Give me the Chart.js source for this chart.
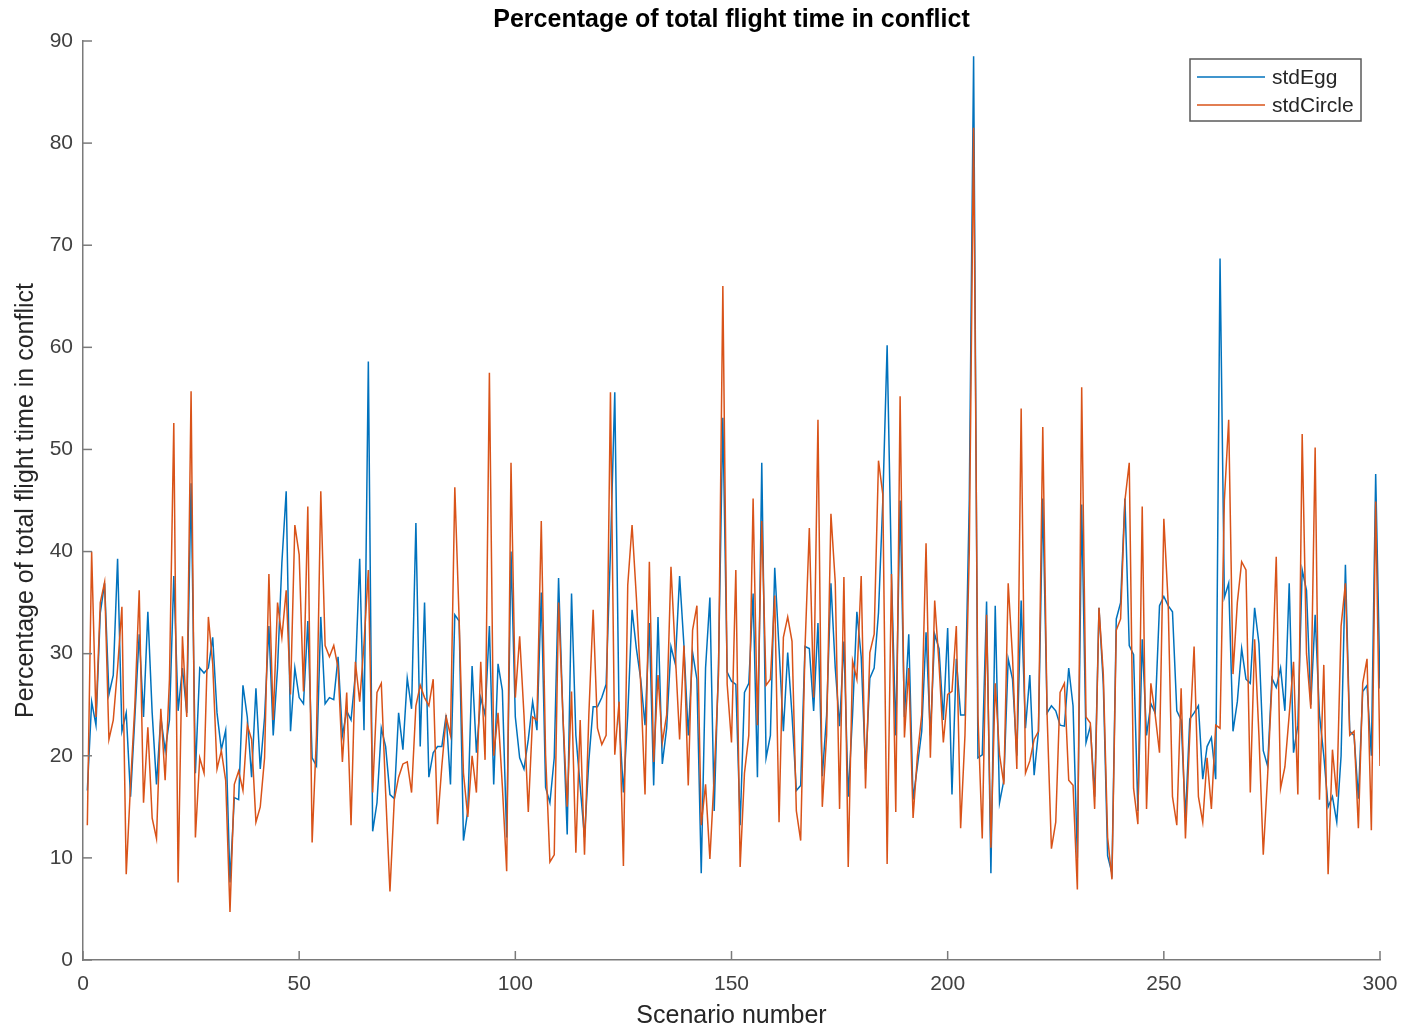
<!DOCTYPE html>
<html><head><meta charset="utf-8">
<script src="https://cdn.jsdelivr.net/npm/chart.js@4/dist/chart.umd.min.js"></script>
<style>html,body{margin:0;padding:0;background:#fff;}#wrap{width:1406px;height:1031px;position:relative;}</style>
</head><body><div id="wrap"><canvas id="c" width="1406" height="1031"></canvas></div>
<script>
const chartTitle = 'Percentage of total flight time in conflict';
const xTitle = 'Scenario number';
const yTitle = 'Percentage of total flight time in conflict';
const seriesNames = ['stdEgg', 'stdCircle'];
const xTicks = [0, 50, 100, 150, 200, 250, 300];
const yTicks = [0, 10, 20, 30, 40, 50, 60, 70, 80, 90];

const stdEgg = [
16.6,25.3,23,34,36.9,26,27.9,39.3,22.4,24.2,16,23.8,31.9,23.8,34.1,24.2,17.2,23.8,20.5,23.5,
37.6,24.4,28.6,24.2,46.7,18.3,28.6,28.1,28.6,31.6,24.2,20.6,22.5,7.6,15.9,15.7,26.9,23.8,17.9,26.6,
18.7,23.8,32.7,22,28.6,38.9,45.9,22.4,28.6,25.7,25.1,33.2,19.8,19,33.6,25.1,25.7,25.5,29.7,22,
24.4,23.5,28,39.3,22.5,58.6,12.6,15.4,22.7,20.9,16.2,15.8,24.2,20.6,27.6,24.6,42.8,20.9,35,17.9,
20.3,20.9,20.9,24,17.2,33.8,33.2,11.7,14.6,28.8,20.3,25.7,24,32.7,17.2,29,26.4,12,40,23.8,
19.8,18.7,21.6,25.3,22.5,36,16.9,15.4,19.8,37.4,24,12.3,35.9,22,17,12,19.5,24.8,24.8,25.7,
27,40,55.6,23.8,16.4,24,34.3,30.5,27.5,23,33,17.1,33.6,19.2,22.7,30.7,29,37.6,30.8,22,
30.1,27.5,8.5,28.6,35.5,14.6,29,53.1,28.2,27.3,27,13.2,26.2,27.1,35.9,17.9,48.7,19.8,22,38.4,
30.5,22.4,30.1,24,16.6,17.1,30.7,30.5,24.4,33,18,24,36.9,28.6,22.9,31.2,16,24,34.1,29.7,
18.7,27.6,28.6,34,45,60.2,37.8,22,45,23.8,31.9,15.7,19,22.4,32.1,22,31.9,30.5,23.5,32.5,
16.2,29.5,24,24,45,88.5,19.8,20.1,35.1,8.5,34.7,15.4,17.6,29.5,27.5,20,35.2,22.7,27.9,18.1,
22.4,45.2,24.2,24.9,24.4,23,22.9,28.6,24.9,10,44.6,21.3,22.9,16,34.5,27,10.2,8.5,33.4,35,
45.2,30.8,29.9,14.6,31.4,22,25.1,24.2,34.7,35.6,34.7,34.1,24.4,23.5,13.9,23.6,24.2,24.9,17.7,20.9,
21.8,17.7,68.7,35.5,36.9,22.4,25.3,30.5,27.5,27.1,34.5,31,20.5,19,27.6,26.7,28.6,24.4,36.9,20.3,
23,38.2,36.2,25,33.8,24,20,15,16,13.5,20,38.7,22.4,22,15.8,26.3,26.9,20,47.6,26.6
];

const stdCircle = [
13.2,40,23.8,35,37,21.6,23.5,28.6,34.6,8.4,17.2,25,36.2,15.4,22.8,13.9,11.9,24.6,17.6,27.5,
52.6,7.6,31.7,23.8,55.7,12,19.8,18.3,33.6,29,18.7,20.5,17.6,4.7,17.2,18.5,16.6,23,21.6,13.5,
15,19.8,37.8,23.5,35,31.6,36.2,26,42.6,39.7,26.3,44.4,11.5,22,45.9,30.8,29.7,30.8,28.6,19.4,
26.2,13.2,29.2,25.3,31,38.2,16.4,26.2,27.1,16.4,6.7,15.7,17.9,19.2,19.4,16.4,24.9,26.9,25.7,24.9,
27.5,13.3,19,23.8,22,46.3,33.4,18.3,14,20,16.4,29.2,19.6,57.5,20,24.2,17,8.7,48.7,25.7,
31.7,24,14.5,23.8,23.5,43,20.1,9.6,10.3,35,24,15,26.3,10.5,23.5,10.3,24,34.3,22.7,21.1,
22,55.6,20.1,25.3,9.2,36.7,42.6,35.5,27,16.2,39,19.4,27.9,21.3,24,38.5,30,21.6,30.8,17.1,
32.3,34.7,13.2,17.2,9.9,18,28,66,27,21.3,38.2,9.1,18.3,22,45.2,23,43,26.9,27.5,35.7,
13.5,31.6,33.6,31.2,14.6,11.7,30.5,42.3,25.7,52.9,15,22,43.7,37,14.8,37.5,9.1,29.3,27.5,37.6,
16.8,30.1,31.9,48.9,45.6,9.4,37.8,14.5,55.2,21.8,28.6,13.9,20,24,40.8,19.8,35.2,29,21.3,26,
26.3,32.7,12.9,22,40,81.5,24,11.9,33.8,11,27.1,20.1,17.2,36.9,29.7,18.7,54,18.3,19.5,21.6,
22.4,52.2,24,10.9,13.5,26.2,27.1,17.6,17.1,6.9,56.1,23.8,23.2,14.8,34.5,28,12,7.9,32.3,33.4,
45,48.7,16.8,13.3,44.4,14.8,27.1,24,20.3,43.2,35,16,13.2,26.6,11.9,22,30.7,16,13.5,19.8,
14.8,23,22.7,45,52.9,28,35,39,38.2,16.4,31.4,22,10.3,18,27,39.5,16.8,18.9,24,29.2,
16.2,51.5,30,24.6,50.2,15.7,28.9,8.4,20.6,16,32.7,36.9,22,22.4,12.9,27.1,29.5,12.7,44.9,19
];

const colors = ['#0072BD', '#D95319'];
const FONT = '"Liberation Sans", Arial, Helvetica, sans-serif';
const axisColor = '#7a7a7a';
const textColor = '#404040';

function toPoints(vals) { return vals.map((v, i) => ({x: i + 1, y: v})); }

const deco = {
  id: 'deco',
  afterDraw(chart) {
    const {ctx, chartArea: a, scales: {x, y}} = chart;
    ctx.save();
    ctx.strokeStyle = axisColor;
    ctx.lineWidth = 1.5;
    x.ticks.forEach(t => {
      const px = x.getPixelForValue(t.value);
      ctx.beginPath(); ctx.moveTo(px, a.bottom); ctx.lineTo(px, a.bottom - 9); ctx.stroke();
    });
    y.ticks.forEach(t => {
      const py = y.getPixelForValue(t.value);
      ctx.beginPath(); ctx.moveTo(a.left, py); ctx.lineTo(a.left + 9, py); ctx.stroke();
    });
    ctx.fillStyle = '#000';
    ctx.font = 'bold 25px ' + FONT;
    ctx.textAlign = 'center';
    ctx.textBaseline = 'middle';
    ctx.fillText(chartTitle, (a.left + a.right) / 2, a.top - 21);
    const bx = a.right - 190, by = a.top + 18, bw = 171, bh = 62;
    ctx.fillStyle = '#fff';
    ctx.fillRect(bx, by, bw, bh);
    ctx.strokeStyle = '#5a5a5a';
    ctx.lineWidth = 1.5;
    ctx.strokeRect(bx, by, bw, bh);
    ctx.font = '21px ' + FONT;
    ctx.textAlign = 'left';
    ctx.fillStyle = '#262626';
    seriesNames.forEach((n, i) => {
      const ly = by + 18 + i * 28;
      ctx.strokeStyle = colors[i];
      ctx.lineWidth = 1.5;
      ctx.beginPath(); ctx.moveTo(bx + 7, ly); ctx.lineTo(bx + 75, ly); ctx.stroke();
      ctx.fillText(n, bx + 82, ly + 1);
    });
    ctx.restore();
  }
};

new Chart(document.getElementById('c'), {
  type: 'line',
  data: {
    datasets: [
      {label: seriesNames[0], data: toPoints(stdEgg), borderColor: colors[0], borderWidth: 1.5, pointRadius: 0, tension: 0, fill: false, order: 1},
      {label: seriesNames[1], data: toPoints(stdCircle), borderColor: colors[1], borderWidth: 1.5, pointRadius: 0, tension: 0, fill: false, order: 0}
    ]
  },
  options: {
    responsive: false,
    animation: false,
    devicePixelRatio: 1,
    layout: {padding: {top: 41, right: 26, left: 0, bottom: 0}},
    plugins: {legend: {display: false}, tooltip: {enabled: false}, title: {display: false}},
    scales: {
      x: {
        type: 'linear', min: 0, max: 300,
        afterBuildTicks: s => { s.ticks = xTicks.map(v => ({value: v})); },
        afterFit: s => { s.height = 71; s.paddingLeft = 0; s.paddingRight = 0; },
        grid: {display: false, drawTicks: false},
        border: {display: true, color: axisColor, width: 1.5},
        ticks: {font: {family: FONT, size: 21}, color: textColor, padding: 12, maxRotation: 0, autoSkip: false},
        title: {display: true, text: xTitle, font: {family: FONT, size: 25}, color: '#262626', padding: {top: 0, bottom: 0}}
      },
      y: {
        min: 0, max: 90,
        afterBuildTicks: s => { s.ticks = yTicks.map(v => ({value: v})); },
        afterFit: s => { s.width = 83; s.paddingTop = 0; s.paddingBottom = 0; },
        grid: {display: false, drawTicks: false},
        border: {display: true, color: axisColor, width: 1.5},
        ticks: {font: {family: FONT, size: 21}, color: textColor, padding: 10, autoSkip: false},
        title: {display: true, text: yTitle, font: {family: FONT, size: 25}, color: '#262626', padding: {top: 11, bottom: 0}}
      }
    }
  },
  plugins: [deco]
});
</script></body></html>
